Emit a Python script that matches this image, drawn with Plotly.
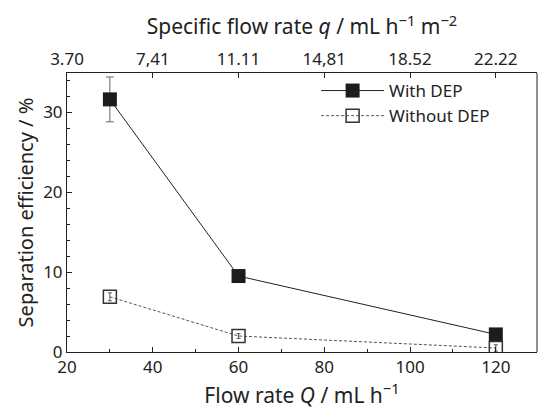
import plotly.graph_objects as go

flow_rate = [30, 60, 120]
with_dep = [31.6, 9.5, 2.2]
with_dep_err = [2.8, 0.3, 0.3]
without_dep = [6.9, 2.0, 0.5]
without_dep_err = [0.5, 0.3, 0.4]

top_tick_q = [20, 40, 60, 80, 100, 120]
top_tick_labels = ["3.70", "7,41", "11.11", "14,81", "18.52", "22.22"]

FONT = "Noto Sans"
INK = "#222222"

fig = go.Figure()
fig.add_trace(go.Scatter(
    x=flow_rate, y=with_dep, name="With DEP", mode="lines+markers",
    line=dict(color=INK, width=1),
    marker=dict(symbol="square", size=14, color="#1c1c1c", line=dict(width=0)),
    error_y=dict(type="data", array=with_dep_err, color="#666666", thickness=1, width=4),
))
fig.add_trace(go.Scatter(
    x=flow_rate, y=without_dep, name="Without DEP", mode="lines+markers",
    line=dict(color="#555555", width=1, dash="3px,2px"),
    marker=dict(symbol="square-open", size=13, color="#333333", line=dict(width=1.5)),
    error_y=dict(type="data", array=without_dep_err, color="#555555", thickness=1, width=2),
))
fig.add_trace(go.Scatter(x=[20], y=[0], xaxis="x2", mode="markers",
                         marker=dict(opacity=0), showlegend=False, hoverinfo="skip"))

axis_common = dict(showline=True, linecolor=INK, linewidth=1, mirror=False,
                   ticks="inside", tickcolor=INK, ticklen=5, showgrid=False,
                   zeroline=False, tickfont=dict(family=FONT, size=17, color=INK))

fig.update_layout(
    width=539, height=411,
    margin=dict(l=67, r=2, t=73, b=59),
    plot_bgcolor="white", paper_bgcolor="white",
    font=dict(family=FONT, color=INK),
    xaxis=dict(range=[20, 129.6], tickvals=[20, 40, 60, 80, 100, 120],
               minor=dict(ticks="inside", ticklen=3, dtick=10, tickcolor=INK, showgrid=False),
               title=dict(text="Flow rate <i>Q</i> / mL h<sup>−1</sup>",
                          font=dict(family=FONT, size=21, color=INK), standoff=0),
               **axis_common),
    xaxis2=dict(range=[20, 129.6], overlaying="x", side="top", anchor="y",
                tickvals=top_tick_q, ticktext=top_tick_labels,
                title=dict(text="Specific flow rate <i>q</i> / mL h<sup>−1</sup> m<sup>−2</sup>",
                           font=dict(family=FONT, size=21, color=INK), standoff=6),
                **axis_common),
    yaxis=dict(range=[0, 34.9], tickvals=[0, 10, 20, 30],
               minor=dict(ticks="inside", ticklen=3, dtick=2, tickcolor=INK, showgrid=False),
               title=dict(text="Separation efficiency / %",
                          font=dict(family=FONT, size=20, color=INK), standoff=4),
               **axis_common),
    showlegend=True,
    legend=dict(x=0.53, y=1.0, xanchor="left", yanchor="top",
                bgcolor="rgba(0,0,0,0)", font=dict(family=FONT, size=17, color=INK),
                tracegroupgap=0, itemwidth=63),
)
fig.add_shape(type="line", xref="paper", yref="paper", x0=1, x1=1, y0=0, y1=1,
              line=dict(color=INK, width=1))

fig.write_html("out.html")
